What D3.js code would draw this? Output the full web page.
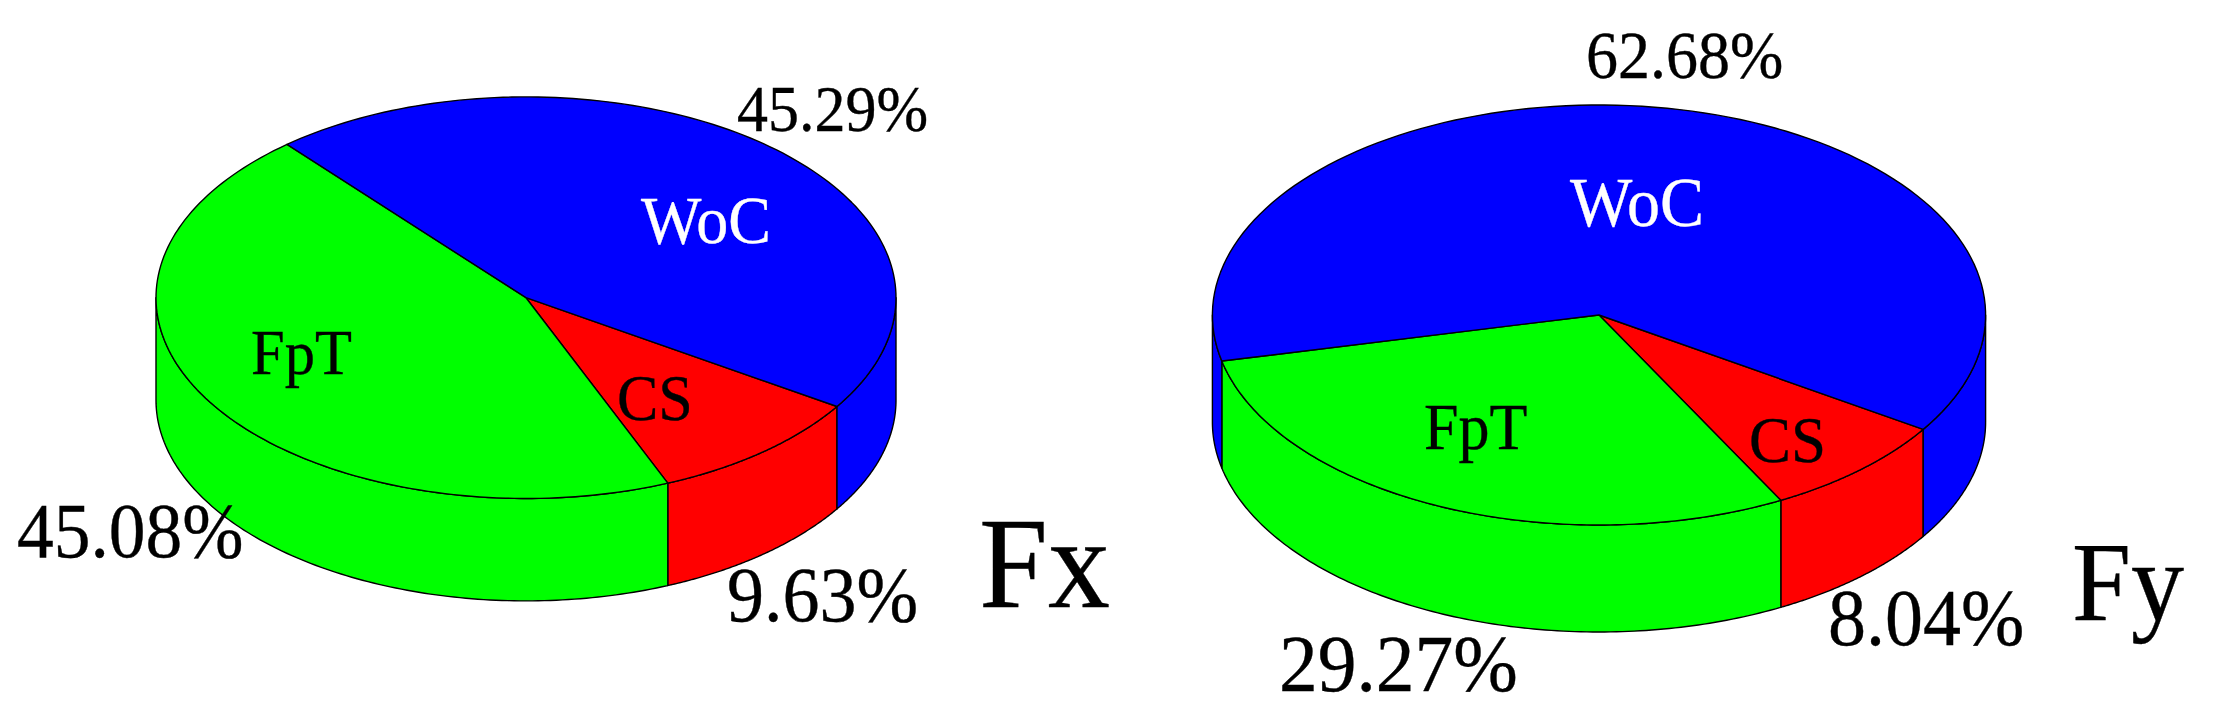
<!DOCTYPE html>
<html><head><meta charset="utf-8">
<style>html,body{margin:0;padding:0;background:#fff}svg{display:block}text{font-family:"Liberation Serif",serif}</style>
<script src="https://d3js.org/d3.v7.min.js"></script></head>
<body><svg id="c" width="2218" height="719"></svg>
<script>
const categories = ["CS", "FpT", "WoC"];
const colors = ["#ff0000", "#00ff00", "#0000ff"];
const labelColors = ["#000000", "#000000", "#ffffff"];
const fxValues = [9.63, 45.08, 45.29];
const fyValues = [8.04, 29.27, 62.68];

const pies = [
  {title:"Fx", values:fxValues, cx:526, cy:297.7, rx:370, ry:200.8, depth:102.4, start:122.8,
   titlePos:[979,607,124],
   pct:[[727,621,74],[17,557,73.5],[737,131,62]],
   cat:[[617,420,62],[251,374,60.5],[641,243,64]]},
  {title:"Fy", values:fyValues, cx:1599, cy:315, rx:386.6, ry:210, depth:107, start:123,
   titlePos:[2072,620,106],
   pct:[[1828,645,76],[1279,691,77.5],[1586,78,64]],
   cat:[[1749,462,63],[1424,449,62],[1570,226,66]]}
];

const svg = d3.select("#c");
const rad = d => d*Math.PI/180;

pies.forEach(p => {
  const g = svg.append("g");
  const x = d3.scaleLinear().domain([-1,1]).range([p.cx-p.rx, p.cx+p.rx]);
  const y = d3.scaleLinear().domain([-1,1]).range([p.cy-p.ry, p.cy+p.ry]);
  const arcs = d3.pie().sort(null)
    .startAngle(rad(p.start)).endAngle(rad(p.start)+2*Math.PI)(p.values);

  const rim = (a, dy=0) => [x(Math.sin(a)), y(-Math.cos(a)) + dy];
  const samples = (a0,a1) => d3.range(0,121).map(i => a0+(a1-a0)*i/120);
  const line = d3.line();

  // side wall: visible front half only
  arcs.forEach((a,i) => {
    [0, 2*Math.PI].forEach(off => {
      const a0 = Math.max(a.startAngle, Math.PI/2+off);
      const a1 = Math.min(a.endAngle, 3*Math.PI/2+off);
      if (a1 <= a0) return;
      const top = samples(a0,a1).map(t => rim(t));
      const bot = samples(a1,a0).map(t => rim(t,p.depth));
      g.append("path").attr("d", line(top.concat(bot))+"Z")
        .attr("fill", colors[i]).attr("stroke","#000").attr("stroke-width",1.4)
        .attr("stroke-linejoin","round");
    });
  });

  // top face
  arcs.forEach((a,i) => {
    const pts = [[x(0),y(0)]].concat(samples(a.startAngle,a.endAngle).map(t => rim(t)));
    g.append("path").attr("d", line(pts)+"Z")
      .attr("fill", colors[i]).attr("stroke","#000").attr("stroke-width",1.4)
      .attr("stroke-linejoin","round");
  });

  // labels, slightly taller than wide as in the reference
  const text = (s,pos,fill) => g.append("text")
    .attr("transform",`translate(${pos[0]},${pos[1]}) scale(1,1.05)`)
    .attr("font-size",pos[2]).attr("fill",fill)
    .attr("stroke",fill).attr("stroke-width",0.35).text(s);
  categories.forEach((c,i) => {
    text(c, p.cat[i], labelColors[i]);
    text(p.values[i].toFixed(2)+"%", p.pct[i], "#000");
  });
  text(p.title, p.titlePos, "#000");
});
</script></body></html>
